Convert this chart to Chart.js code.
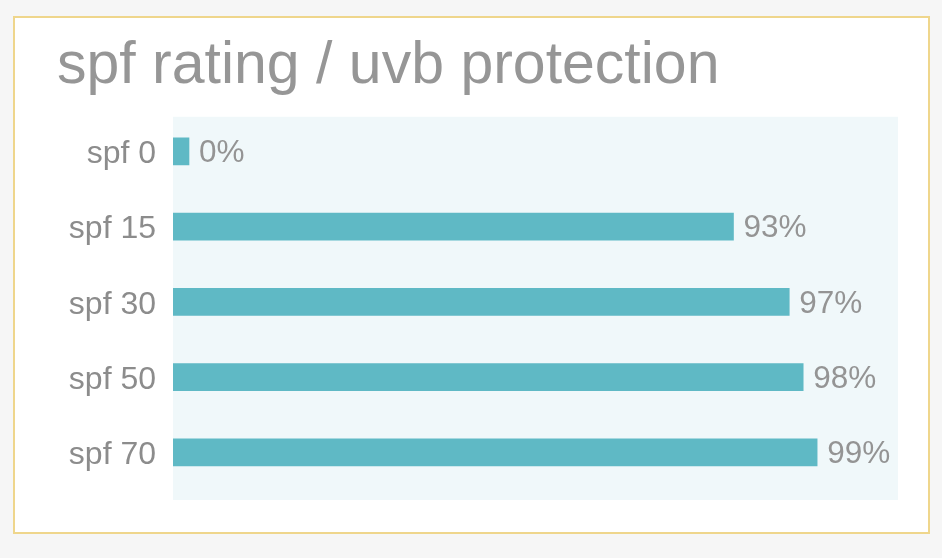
<!DOCTYPE html>
<html>
<head>
<meta charset="utf-8">
<script src="https://cdn.jsdelivr.net/npm/chart.js@4"></script>
<style>
  body { margin: 0; background: #f6f6f6; }
  #card {
    position: absolute; left: 13px; top: 16px; width: 913px; height: 514px;
    background: #fff; border: 2px solid #efd68c;
  }
  #wrap { position: absolute; left: 0; top: 0; width: 942px; height: 558px; }
</style>
</head>
<body>
<div id="card"></div>
<div id="wrap"><canvas id="bar-chart"></canvas></div>
<script>
var ratings = ['spf 0', 'spf 15', 'spf 30', 'spf 50', 'spf 70'];
var protection = [0, 93, 97, 98, 99];

var fontFamily = "'Helvetica Neue', 'Liberation Sans', Arial, sans-serif";

// light blue panel behind the bars
var panelPlugin = {
    id: 'panel',
    beforeDatasetsDraw: function (chart) {
        var a = chart.chartArea;
        var ctx = chart.ctx;
        ctx.save();
        ctx.fillStyle = '#f0f8fa';
        ctx.fillRect(a.left, a.top + 3, a.right - a.left, a.bottom - a.top + 7);
        ctx.restore();
    }
};

// percent labels at the end of each bar
var valueLabels = {
    id: 'valueLabels',
    afterDatasetsDraw: function (chart) {
        var ctx = chart.ctx;
        var meta = chart.getDatasetMeta(0);
        ctx.save();
        ctx.font = '31.5px ' + fontFamily;
        ctx.fillStyle = '#949494';
        ctx.textBaseline = 'middle';
        ctx.textAlign = 'left';
        meta.data.forEach(function (bar, i) {
            ctx.fillText(protection[i] + '%', bar.x + 10, bar.y + 2);
        });
        ctx.restore();
    }
};

var ctx = document.getElementById('bar-chart').getContext('2d');
var chart = new Chart(ctx, {
    type: 'bar',
    data: {
        labels: ratings,
        datasets: [{
            label: 'uvb protection',
            data: protection,
            backgroundColor: '#5fb9c5',
            barThickness: 27,
            minBarLength: 16,
            clip: 0
        }]
    },
    options: {
        indexAxis: 'y',
        responsive: true,
        maintainAspectRatio: false,
        animation: false,
        layout: {
            padding: { left: 57, top: 31, right: 44, bottom: 68 }
        },
        scales: {
            x: {
                display: false,
                min: 52.8,
                max: 104.8
            },
            y: {
                grid: { display: false },
                border: { display: false },
                ticks: {
                    padding: 9,
                    labelOffset: 3,
                    color: '#8c8c8c',
                    font: { family: fontFamily, size: 32 }
                },
                afterFit: function (scale) { scale.width = 116; }
            }
        },
        plugins: {
            legend: { display: false },
            tooltip: { enabled: false },
            title: {
                display: true,
                text: 'spf rating / uvb protection',
                align: 'start',
                color: '#969696',
                font: { family: fontFamily, size: 59, weight: 'normal' },
                padding: { top: 0, bottom: 12 }
            }
        }
    },
    plugins: [panelPlugin, valueLabels]
});
</script>
</body>
</html>
